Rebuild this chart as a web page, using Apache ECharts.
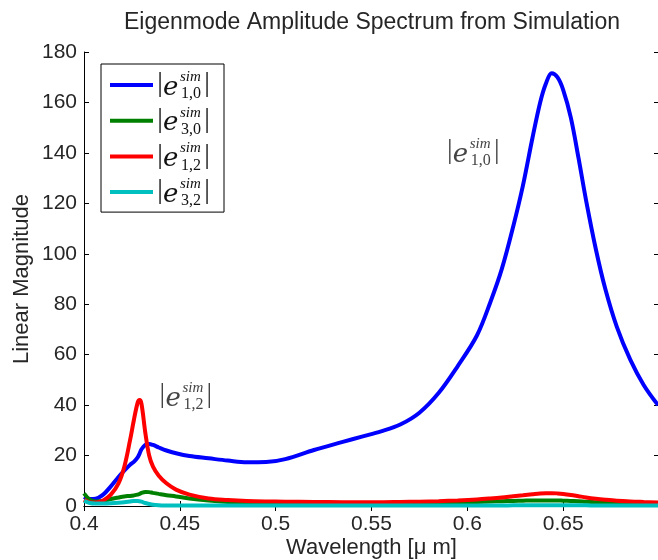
<!DOCTYPE html>
<html><head><meta charset="utf-8">
<script src="https://cdn.jsdelivr.net/npm/echarts@6/dist/echarts.min.js"></script>
<style>html,body{margin:0;padding:0;background:#fff}#c{width:658px;height:560px}</style>
</head><body><div id="c"></div>
<script>
// ---- data ----
const wavelength = [0.400,0.403,0.406,0.410,0.414,0.418,0.421,0.424,0.426,0.428,0.429,0.430,0.432,0.434,0.436,0.439,0.443,0.448,0.455,0.465,0.475,0.485,0.495,0.505,0.520,0.535,0.545,0.555,0.565,0.575,0.585,0.595,0.605,0.612,0.618,0.624,0.629,0.634,0.638,0.641,0.644,0.647,0.650,0.654,0.658,0.662,0.667,0.672,0.678,0.685,0.692,0.6995];
const e10 = [3.6,2.8,2.9,4.5,7.8,11.5,14,16.3,17.5,19.3,20.8,22.5,24.2,24.6,24.2,23.2,22,20.9,19.8,18.9,18.0,17.3,17.4,18.6,22.2,25.4,27.5,29.6,32.3,37,44.8,55.5,67.6,80.8,94,111,127,146,160,167.5,171.6,170,165,154,138,121,102,86,71,58,48,40];
const e30 = [5,2.5,1.8,2,2.8,3.4,3.8,4,4.2,4.5,4.8,5.2,5.6,5.5,5.2,4.8,4.3,3.8,3,2.2,1.6,1.2,0.9,0.8,0.7,0.7,0.7,0.7,0.8,0.9,1.1,1.3,1.6,1.8,1.9,2,2.1,2.2,2.2,2.2,2.2,2.2,2.1,2,1.9,1.7,1.5,1.4,1.2,1.1,1,0.9];
const e12 = [2.5,1.5,1.4,2.2,4.5,9,15.5,26,34,41,42,40.5,29,20,15.6,12,9,6.5,4.5,3,2.4,2,1.8,1.7,1.6,1.5,1.5,1.5,1.6,1.7,1.9,2.2,2.6,3,3.4,3.9,4.3,4.7,5,5.1,5.1,5,4.8,4.4,3.9,3.4,2.9,2.5,2.1,1.8,1.6,1.4];
const e32 = [2,1.2,1,1,1.1,1.3,1.5,1.8,2,2,1.9,1.7,1.2,0.8,0.5,0.3,0.2,0.15,0.15,0.15,0.15,0.15,0.15,0.15,0.15,0.15,0.15,0.15,0.15,0.15,0.15,0.15,0.15,0.2,0.2,0.25,0.25,0.3,0.3,0.3,0.3,0.3,0.3,0.3,0.25,0.25,0.2,0.2,0.2,0.15,0.15,0.15];
const subscripts = ['1,0','3,0','1,2','3,2'];
const seriesNames = ['|e^sim_1,0|','|e^sim_3,0|','|e^sim_1,2|','|e^sim_3,2|'];
const seriesValues = [e10, e30, e12, e32];
const xTickValues = [0.4,0.45,0.5,0.55,0.6,0.65];
const yTickValues = [0,20,40,60,80,100,120,140,160,180];
const annotations = [{sub:'1,0', at:[0.5908,140.4]}, {sub:'1,2', at:[0.4409,43.6]}];

// ---- styles ----
const colors = ['#0000ff','#008000','#ff0000','#00bfbf'];
const textColor = '#262626';
const sans = '"Liberation Sans", Arial, sans-serif';
const G = {left:84, top:52, width:575, height:454};

const chart = echarts.init(document.getElementById('c'), null, {renderer:'canvas'});

function axisCommon(){
  return {
    axisLine:{show:true, lineStyle:{color:'#000', width:1}},
    axisTick:{show:true, inside:true, length:5, lineStyle:{color:'#000', width:1}},
    splitLine:{show:false}
  };
}

const option = {
  animation:false,
  backgroundColor:'#fff',
  color: colors,
  title:{
    text:'Eigenmode Amplitude Spectrum from Simulation',
    left:372, top:11, textAlign:'center', padding:0,
    textStyle:{fontFamily:sans, fontSize:23, fontWeight:'normal', color:textColor}
  },
  grid:{left:G.left, top:G.top, width:G.width, height:G.height, containLabel:false, outerBoundsMode:'none'},
  legend:{
    orient:'vertical', left:101, top:64,
    padding:[6,8,5,9],
    itemWidth:43, itemHeight:4, itemGap:5.7,
    icon:'rect',
    borderColor:'#000', borderWidth:1, backgroundColor:'#fff',
    selectedMode:false,
    data: seriesNames,
    formatter: () => '{w|}',
    textStyle:{rich:{w:{width:58, height:30, lineHeight:30}}}
  },
  xAxis:[
    Object.assign(axisCommon(), {
      type:'value', min:0.4, max:0.7, interval:0.05, position:'bottom',
      name:'Wavelength [μ m]', nameLocation:'middle', nameGap:31, nameMoveOverlap:false,
      nameTextStyle:{fontFamily:sans, fontSize:22, color:textColor},
      axisLabel:{margin:8, fontFamily:sans, fontSize:21, color:textColor, showMinLabel:true,
        formatter: v => xTickValues.some(t => Math.abs(t - v) < 1e-9) ? String(+v.toFixed(2)) : ''}
    }),
    Object.assign(axisCommon(), {
      type:'value', min:0.4, max:0.7, interval:0.05, position:'top',
      axisLabel:{show:false}
    })
  ],
  yAxis:[
    Object.assign(axisCommon(), {
      type:'value', min:0, max:180, interval:20, position:'left',
      name:'Linear Magnitude', nameLocation:'middle', nameGap:51, nameMoveOverlap:false,
      nameTextStyle:{fontFamily:sans, fontSize:22, color:textColor},
      axisLabel:{margin:7, fontFamily:sans, fontSize:21, color:textColor,
        formatter: v => yTickValues.includes(v) ? String(v) : ''}
    }),
    Object.assign(axisCommon(), {
      type:'value', min:0, max:180, interval:20, position:'right',
      axisLabel:{show:false}
    })
  ],
  series: seriesNames.map((name, i) => ({
    name, type:'line', xAxisIndex:0, yAxisIndex:0,
    data: wavelength.map((w, k) => [w, seriesValues[i][k]]),
    smooth:0.35, symbol:'none', showSymbol:false,
    lineStyle:{width:4, color:colors[i]},
    itemStyle:{color:colors[i]},
    clip:true
  }))
};
chart.setOption(option);

function mathLabel(x, y, sub, color){
  const f = (size, italic, fam) => (italic ? 'italic ' : '') + size + 'px ' + (fam || '"DejaVu Serif", serif');
  const t = (text, dx, dy, font, align) => ({
    type:'text', silent:true, z:100, zlevel:0,
    x:x + dx, y:y + dy,
    style:{text, font, fill:color, align:align||'left', verticalAlign:'middle'}
  });
  return [
    t('|', 0, -1, f(28, false, '"Liberation Serif", serif'), 'center'),
    t('e', 3, 3, f(26, true), 'left'),
    t('sim', 20, -8, f(15, true, '"Liberation Serif", serif'), 'left'),
    t(sub, 21, 9, f(16, false, '"Liberation Serif", serif'), 'left'),
    t('|', 47, -1, f(28, false, '"Liberation Serif", serif'), 'center')
  ];
}

const graphics = [];
const rowTop = 64 + 6, rowH = 30, gap = 5.7;
subscripts.forEach((s, i) => {
  graphics.push(...mathLabel(160, rowTop + rowH/2 + i*(rowH+gap), s, '#111'));
});
annotations.forEach(a => {
  const p = chart.convertToPixel({xAxisIndex:0, yAxisIndex:0}, a.at);
  graphics.push(...mathLabel(p[0], p[1], a.sub, '#444'));
});
chart.setOption({graphic: {elements: graphics}});
</script>
</body></html>
